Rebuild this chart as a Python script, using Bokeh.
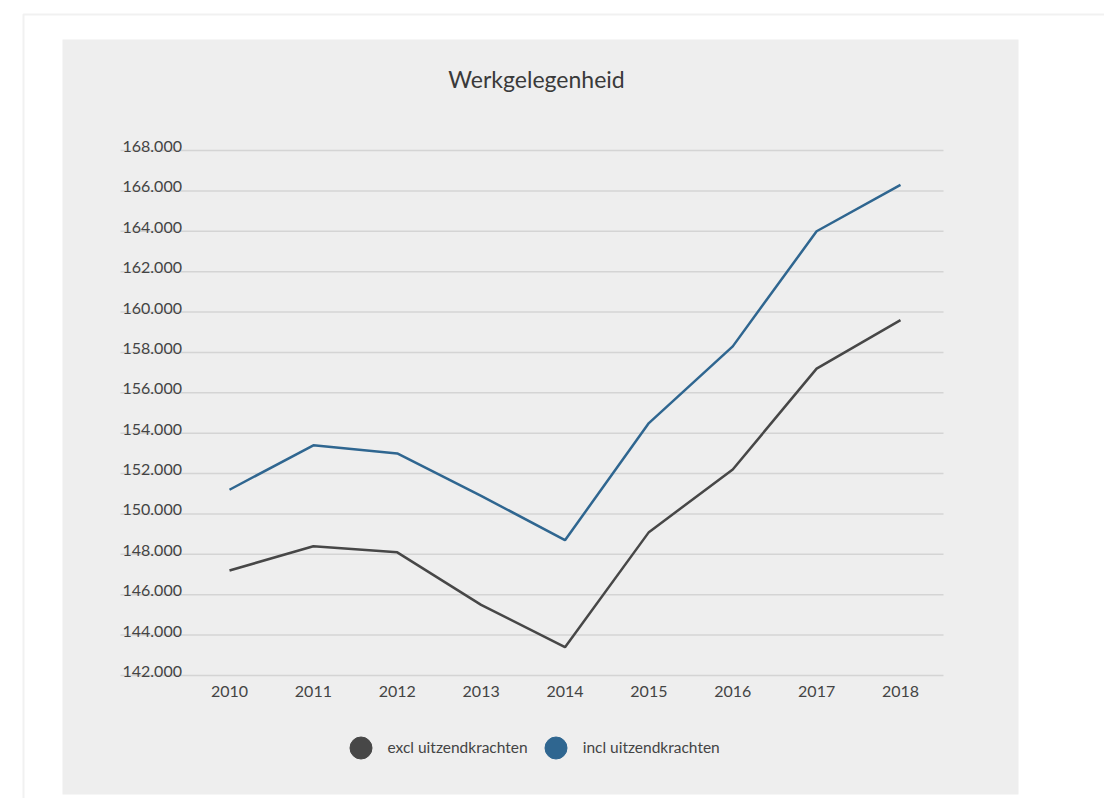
from bokeh.plotting import figure
from bokeh.models import Range1d, BoxAnnotation, Label, Legend, LegendItem
from bokeh.core.properties import value
from bokeh.embed import file_html
from bokeh.resources import INLINE

# ---- data ----
years = [2010, 2011, 2012, 2013, 2014, 2015, 2016, 2017, 2018]
x_tick_labels = ["2010", "2011", "2012", "2013", "2014", "2015", "2016", "2017", "2018"]
excl = [147200, 148400, 148100, 145500, 143400, 149100, 152200, 157200, 159600]
incl = [151200, 153400, 153000, 150900, 148700, 154500, 158300, 164000, 166300]
y_ticks = [142000, 144000, 146000, 148000, 150000, 152000, 154000,
           156000, 158000, 160000, 162000, 164000, 166000, 168000]
y_tick_labels = ["142.000", "144.000", "146.000", "148.000", "150.000", "152.000", "154.000",
                 "156.000", "158.000", "160.000", "162.000", "164.000", "166.000", "168.000"]
series_names = ["excl uitzendkrachten", "incl uitzendkrachten"]
series_colors = ["#474747", "#2f6690"]
title_text = "Werkgelegenheid"

FONT = "Lato"
TXT = "#444444"
W, H = 1104, 798

# layout: the plotting frame covers the whole canvas
X_PX_PER_YEAR = 83.875
Y_PX_PER_UNIT = 525 / 26000.0
x_start = 2010 - 229 / X_PX_PER_YEAR
x_end = x_start + W / X_PX_PER_YEAR
y_end = 168000 + 150 / Y_PX_PER_UNIT
y_start = y_end - H / Y_PX_PER_UNIT


def px2x(px):
    return x_start + px / X_PX_PER_YEAR


def px2y(py):
    return y_end - py / Y_PX_PER_UNIT


p = figure(width=W, height=H, output_backend="svg", toolbar_location=None,
           x_range=Range1d(x_start, x_end), y_range=Range1d(y_start, y_end),
           min_border=0, x_axis_location=None, y_axis_location=None,
           background_fill_color="white", border_fill_color="white",
           outline_line_color=None)
p.xgrid.visible = False
p.ygrid.visible = False

# page decorations
outer = BoxAnnotation(left=px2x(23), right=px2x(W + 20), top=px2y(14), bottom=px2y(H + 20),
                      fill_alpha=0, line_color="#d2d2d2", line_width=2, level="underlay")
panel = BoxAnnotation(left=px2x(62), right=px2x(1018), top=px2y(39), bottom=px2y(794),
                      fill_color="#eeeeee", fill_alpha=1, line_color=None, level="underlay")
p.center = [outer, panel] + list(p.center)

# horizontal gridlines
gx0, gx1 = px2x(120), px2x(943)
p.segment(x0=[gx0] * len(y_ticks), x1=[gx1] * len(y_ticks), y0=y_ticks, y1=y_ticks,
          line_color="#d4d4d4", line_width=1.5)

# y tick labels, above each gridline at the left edge
p.text(x=[gx0] * len(y_ticks), y=y_ticks, text=y_tick_labels,
       x_offset=2, y_offset=-4, text_align="left", text_baseline="alphabetic",
       text_font=value(FONT), text_font_size="16px", text_color=TXT)

# x tick labels under the lowest gridline
p.text(x=years, y=[y_ticks[0]] * len(years), text=x_tick_labels,
       y_offset=10, text_align="center", text_baseline="top",
       text_font=value(FONT), text_font_size="16px", text_color=TXT)

# series
p.line(years, excl, line_color=series_colors[0], line_width=2.5)
p.line(years, incl, line_color=series_colors[1], line_width=2.5)
r1 = p.scatter(years, excl, size=0, color=series_colors[0])
r2 = p.scatter(years, incl, size=0, color=series_colors[1])

legend = Legend(items=[LegendItem(label=series_names[0], renderers=[r1]),
                       LegendItem(label=series_names[1], renderers=[r2])],
                orientation="horizontal", location=(332.5, 23.5),
                glyph_width=55, glyph_height=55, label_standoff=-3, spacing=-6,
                padding=0, margin=0, border_line_color=None, background_fill_alpha=0,
                label_text_font=FONT, label_text_font_size="15.5px", label_text_color=TXT)
p.add_layout(legend)

title = Label(x=px2x(536), y=px2y(78), text=title_text,
              text_align="center", text_baseline="middle", text_font=FONT,
              text_font_size="23px", text_color="#3a3a3a")
p.add_layout(title)

open("out.html", "w").write(file_html(p, INLINE))
